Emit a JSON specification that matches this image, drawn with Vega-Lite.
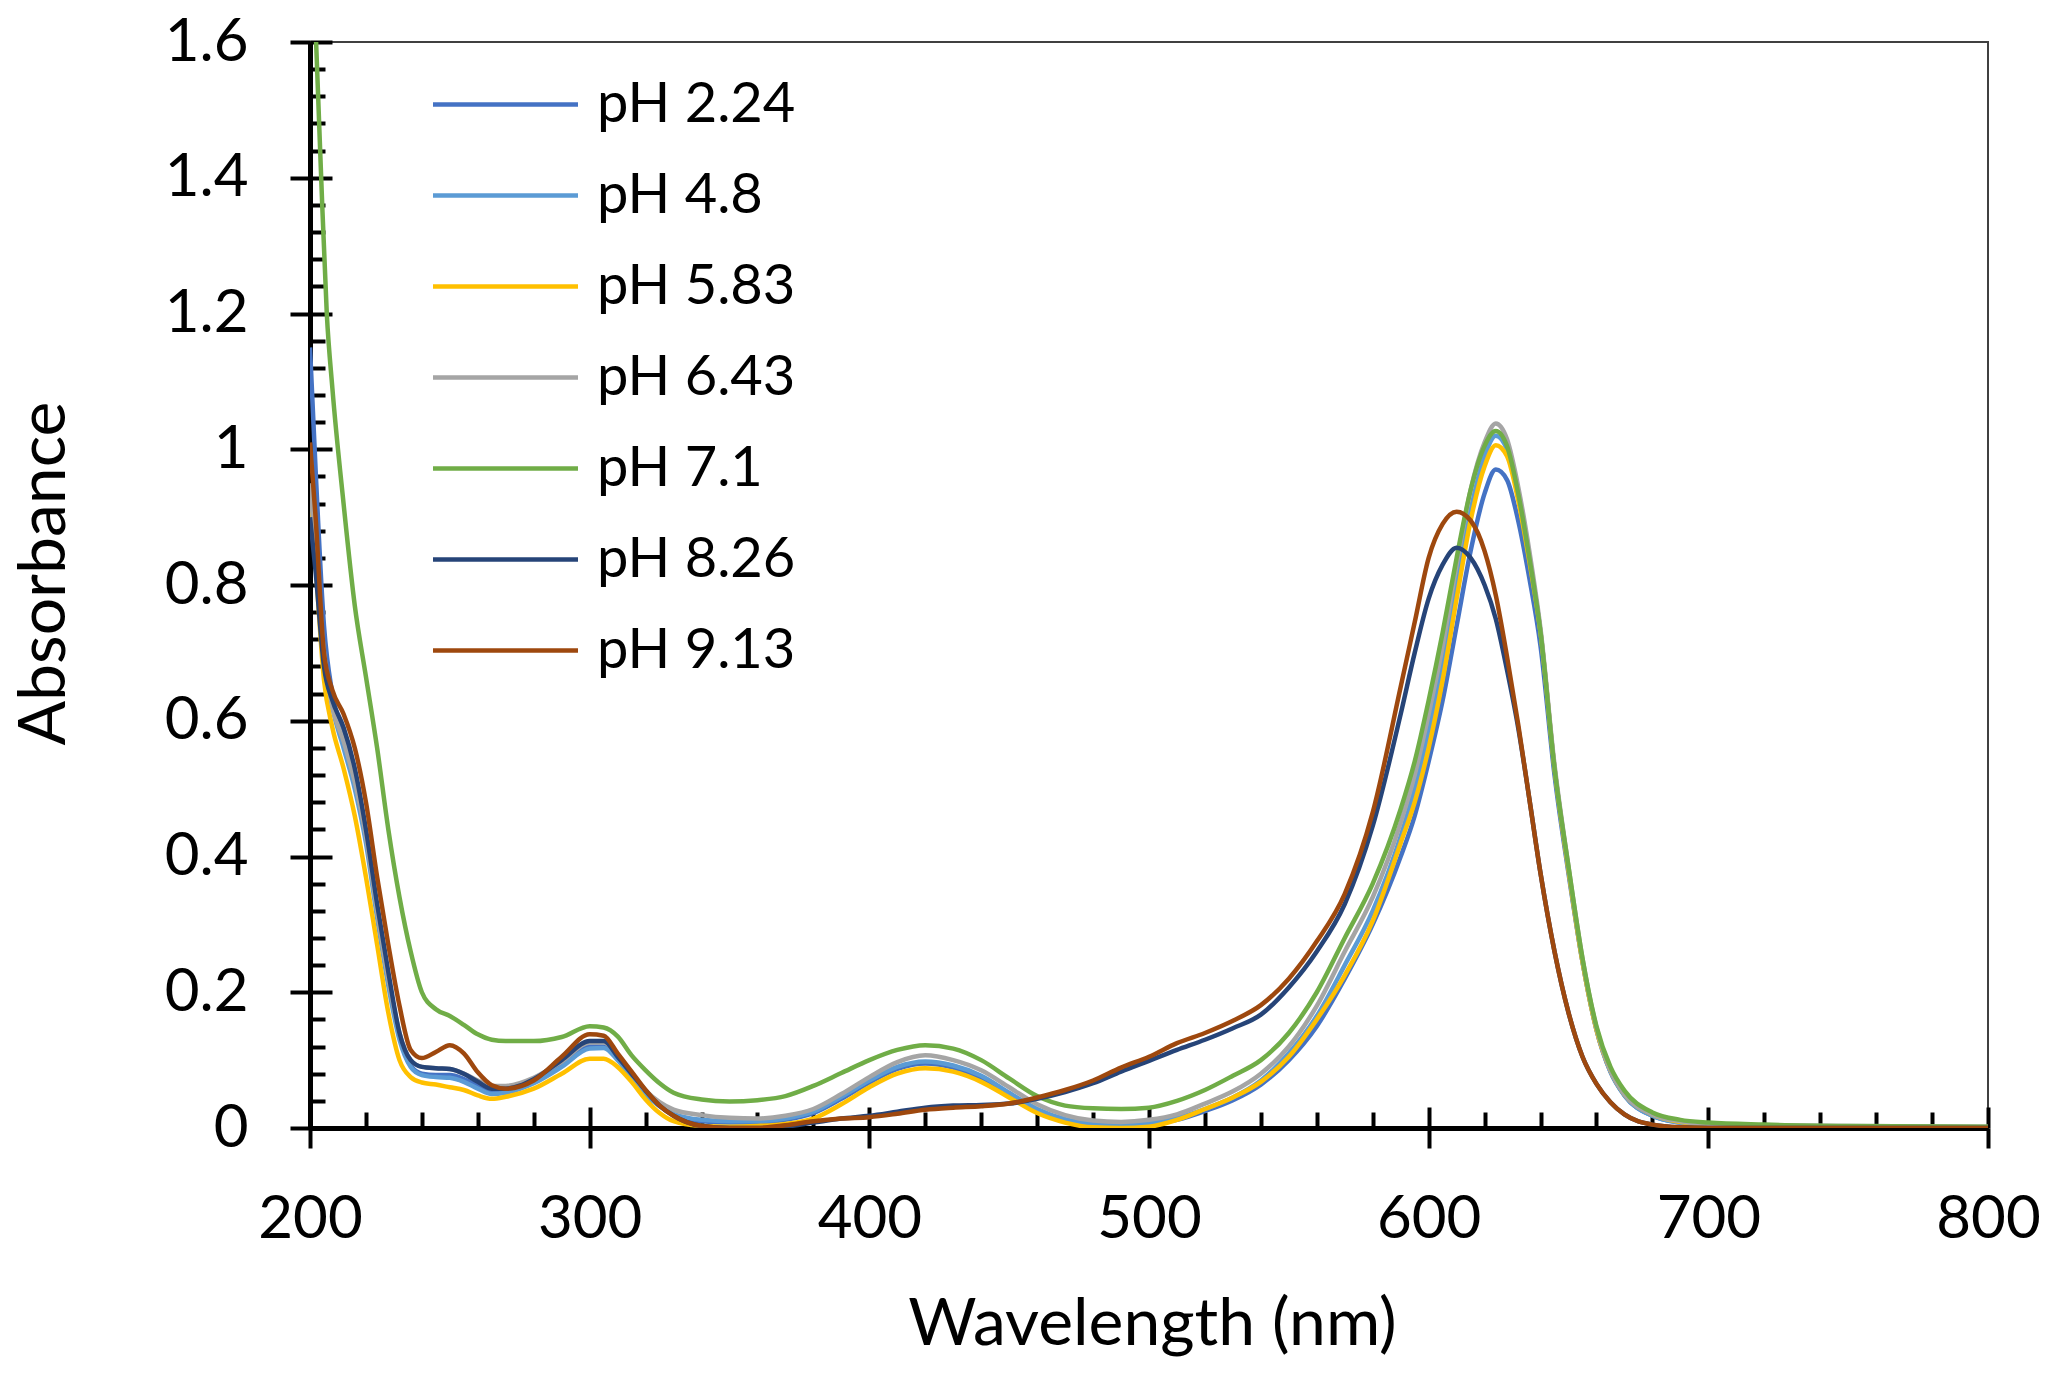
{
  "$schema": "https://vega.github.io/schema/vega-lite/v6.json",
  "width": 1678,
  "height": 1086,
  "autosize": {"type": "none"},
  "padding": {"left": 310, "top": 42, "right": 62, "bottom": 249},
  "background": "#ffffff",
  "config": {
    "view": {"stroke": "#404040", "strokeWidth": 2},
    "axis": {"grid": false, "labelFont": "Lato", "titleFont": "Lato", "labelColor": "#000000", "titleColor": "#000000", "tickColor": "#000000", "domainColor": "#000000"}
  },
  "data": {
    "values": [
      {"s":"pH 2.24","wl":200,"A":1.15},{"s":"pH 2.24","wl":202,"A":0.97},{"s":"pH 2.24","wl":205,"A":0.74},{"s":"pH 2.24","wl":208,"A":0.64},{"s":"pH 2.24","wl":212,"A":0.58},{"s":"pH 2.24","wl":216,"A":0.52},{"s":"pH 2.24","wl":220,"A":0.43},{"s":"pH 2.24","wl":224,"A":0.32},{"s":"pH 2.24","wl":228,"A":0.22},{"s":"pH 2.24","wl":232,"A":0.135},{"s":"pH 2.24","wl":236,"A":0.092},{"s":"pH 2.24","wl":240,"A":0.08},{"s":"pH 2.24","wl":245,"A":0.078},{"s":"pH 2.24","wl":250,"A":0.078},{"s":"pH 2.24","wl":255,"A":0.072},{"s":"pH 2.24","wl":260,"A":0.062},{"s":"pH 2.24","wl":265,"A":0.054},{"s":"pH 2.24","wl":270,"A":0.055},{"s":"pH 2.24","wl":280,"A":0.068},{"s":"pH 2.24","wl":290,"A":0.093},{"s":"pH 2.24","wl":300,"A":0.12},{"s":"pH 2.24","wl":305,"A":0.12},{"s":"pH 2.24","wl":310,"A":0.102},{"s":"pH 2.24","wl":315,"A":0.076},{"s":"pH 2.24","wl":320,"A":0.05},{"s":"pH 2.24","wl":325,"A":0.032},{"s":"pH 2.24","wl":330,"A":0.02},{"s":"pH 2.24","wl":340,"A":0.01},{"s":"pH 2.24","wl":350,"A":0.008},{"s":"pH 2.24","wl":360,"A":0.008},{"s":"pH 2.24","wl":370,"A":0.012},{"s":"pH 2.24","wl":380,"A":0.022},{"s":"pH 2.24","wl":390,"A":0.043},{"s":"pH 2.24","wl":400,"A":0.067},{"s":"pH 2.24","wl":410,"A":0.087},{"s":"pH 2.24","wl":420,"A":0.095},{"s":"pH 2.24","wl":430,"A":0.089},{"s":"pH 2.24","wl":440,"A":0.074},{"s":"pH 2.24","wl":450,"A":0.05},{"s":"pH 2.24","wl":460,"A":0.027},{"s":"pH 2.24","wl":470,"A":0.012},{"s":"pH 2.24","wl":480,"A":0.005},{"s":"pH 2.24","wl":490,"A":0.003},{"s":"pH 2.24","wl":500,"A":0.005},{"s":"pH 2.24","wl":510,"A":0.012},{"s":"pH 2.24","wl":520,"A":0.025},{"s":"pH 2.24","wl":530,"A":0.041},{"s":"pH 2.24","wl":540,"A":0.064},{"s":"pH 2.24","wl":550,"A":0.1},{"s":"pH 2.24","wl":560,"A":0.15},{"s":"pH 2.24","wl":570,"A":0.22},{"s":"pH 2.24","wl":580,"A":0.3},{"s":"pH 2.24","wl":590,"A":0.4},{"s":"pH 2.24","wl":595,"A":0.46},{"s":"pH 2.24","wl":600,"A":0.54},{"s":"pH 2.24","wl":605,"A":0.63},{"s":"pH 2.24","wl":610,"A":0.74},{"s":"pH 2.24","wl":615,"A":0.85},{"s":"pH 2.24","wl":620,"A":0.935},{"s":"pH 2.24","wl":624,"A":0.97},{"s":"pH 2.24","wl":628,"A":0.955},{"s":"pH 2.24","wl":632,"A":0.895},{"s":"pH 2.24","wl":636,"A":0.81},{"s":"pH 2.24","wl":640,"A":0.71},{"s":"pH 2.24","wl":645,"A":0.52},{"s":"pH 2.24","wl":650,"A":0.375},{"s":"pH 2.24","wl":655,"A":0.245},{"s":"pH 2.24","wl":660,"A":0.145},{"s":"pH 2.24","wl":665,"A":0.083},{"s":"pH 2.24","wl":670,"A":0.048},{"s":"pH 2.24","wl":680,"A":0.018},{"s":"pH 2.24","wl":690,"A":0.008},{"s":"pH 2.24","wl":700,"A":0.004},{"s":"pH 2.24","wl":720,"A":0.002},{"s":"pH 2.24","wl":750,"A":0.001},{"s":"pH 2.24","wl":800,"A":0.0},

      {"s":"pH 4.8","wl":200,"A":0.92},{"s":"pH 4.8","wl":202,"A":0.84},{"s":"pH 4.8","wl":205,"A":0.7},{"s":"pH 4.8","wl":208,"A":0.62},{"s":"pH 4.8","wl":212,"A":0.56},{"s":"pH 4.8","wl":216,"A":0.5},{"s":"pH 4.8","wl":220,"A":0.42},{"s":"pH 4.8","wl":224,"A":0.31},{"s":"pH 4.8","wl":228,"A":0.21},{"s":"pH 4.8","wl":232,"A":0.13},{"s":"pH 4.8","wl":236,"A":0.09},{"s":"pH 4.8","wl":240,"A":0.078},{"s":"pH 4.8","wl":245,"A":0.075},{"s":"pH 4.8","wl":250,"A":0.074},{"s":"pH 4.8","wl":255,"A":0.068},{"s":"pH 4.8","wl":260,"A":0.058},{"s":"pH 4.8","wl":265,"A":0.05},{"s":"pH 4.8","wl":270,"A":0.052},{"s":"pH 4.8","wl":280,"A":0.066},{"s":"pH 4.8","wl":290,"A":0.09},{"s":"pH 4.8","wl":300,"A":0.117},{"s":"pH 4.8","wl":305,"A":0.118},{"s":"pH 4.8","wl":310,"A":0.1},{"s":"pH 4.8","wl":315,"A":0.075},{"s":"pH 4.8","wl":320,"A":0.05},{"s":"pH 4.8","wl":325,"A":0.033},{"s":"pH 4.8","wl":330,"A":0.021},{"s":"pH 4.8","wl":340,"A":0.012},{"s":"pH 4.8","wl":350,"A":0.01},{"s":"pH 4.8","wl":360,"A":0.01},{"s":"pH 4.8","wl":370,"A":0.014},{"s":"pH 4.8","wl":380,"A":0.024},{"s":"pH 4.8","wl":390,"A":0.046},{"s":"pH 4.8","wl":400,"A":0.07},{"s":"pH 4.8","wl":410,"A":0.09},{"s":"pH 4.8","wl":420,"A":0.098},{"s":"pH 4.8","wl":430,"A":0.092},{"s":"pH 4.8","wl":440,"A":0.077},{"s":"pH 4.8","wl":450,"A":0.052},{"s":"pH 4.8","wl":460,"A":0.028},{"s":"pH 4.8","wl":470,"A":0.013},{"s":"pH 4.8","wl":480,"A":0.006},{"s":"pH 4.8","wl":490,"A":0.004},{"s":"pH 4.8","wl":500,"A":0.007},{"s":"pH 4.8","wl":510,"A":0.015},{"s":"pH 4.8","wl":520,"A":0.028},{"s":"pH 4.8","wl":530,"A":0.045},{"s":"pH 4.8","wl":540,"A":0.07},{"s":"pH 4.8","wl":550,"A":0.11},{"s":"pH 4.8","wl":560,"A":0.165},{"s":"pH 4.8","wl":570,"A":0.24},{"s":"pH 4.8","wl":580,"A":0.32},{"s":"pH 4.8","wl":590,"A":0.43},{"s":"pH 4.8","wl":595,"A":0.5},{"s":"pH 4.8","wl":600,"A":0.585},{"s":"pH 4.8","wl":605,"A":0.685},{"s":"pH 4.8","wl":610,"A":0.8},{"s":"pH 4.8","wl":615,"A":0.91},{"s":"pH 4.8","wl":620,"A":0.99},{"s":"pH 4.8","wl":624,"A":1.02},{"s":"pH 4.8","wl":628,"A":1.0},{"s":"pH 4.8","wl":632,"A":0.935},{"s":"pH 4.8","wl":636,"A":0.84},{"s":"pH 4.8","wl":640,"A":0.73},{"s":"pH 4.8","wl":645,"A":0.53},{"s":"pH 4.8","wl":650,"A":0.38},{"s":"pH 4.8","wl":655,"A":0.245},{"s":"pH 4.8","wl":660,"A":0.145},{"s":"pH 4.8","wl":665,"A":0.083},{"s":"pH 4.8","wl":670,"A":0.048},{"s":"pH 4.8","wl":680,"A":0.018},{"s":"pH 4.8","wl":690,"A":0.008},{"s":"pH 4.8","wl":700,"A":0.004},{"s":"pH 4.8","wl":720,"A":0.002},{"s":"pH 4.8","wl":750,"A":0.001},{"s":"pH 4.8","wl":800,"A":0.0},

      {"s":"pH 5.83","wl":200,"A":0.94},{"s":"pH 5.83","wl":202,"A":0.83},{"s":"pH 5.83","wl":205,"A":0.66},{"s":"pH 5.83","wl":208,"A":0.59},{"s":"pH 5.83","wl":212,"A":0.53},{"s":"pH 5.83","wl":216,"A":0.46},{"s":"pH 5.83","wl":220,"A":0.37},{"s":"pH 5.83","wl":224,"A":0.27},{"s":"pH 5.83","wl":228,"A":0.17},{"s":"pH 5.83","wl":232,"A":0.1},{"s":"pH 5.83","wl":236,"A":0.075},{"s":"pH 5.83","wl":240,"A":0.067},{"s":"pH 5.83","wl":245,"A":0.064},{"s":"pH 5.83","wl":250,"A":0.06},{"s":"pH 5.83","wl":255,"A":0.056},{"s":"pH 5.83","wl":260,"A":0.048},{"s":"pH 5.83","wl":265,"A":0.043},{"s":"pH 5.83","wl":270,"A":0.046},{"s":"pH 5.83","wl":280,"A":0.058},{"s":"pH 5.83","wl":290,"A":0.08},{"s":"pH 5.83","wl":300,"A":0.102},{"s":"pH 5.83","wl":305,"A":0.102},{"s":"pH 5.83","wl":310,"A":0.09},{"s":"pH 5.83","wl":315,"A":0.068},{"s":"pH 5.83","wl":320,"A":0.042},{"s":"pH 5.83","wl":325,"A":0.022},{"s":"pH 5.83","wl":330,"A":0.01},{"s":"pH 5.83","wl":340,"A":0.003},{"s":"pH 5.83","wl":350,"A":0.002},{"s":"pH 5.83","wl":360,"A":0.003},{"s":"pH 5.83","wl":370,"A":0.006},{"s":"pH 5.83","wl":380,"A":0.014},{"s":"pH 5.83","wl":390,"A":0.035},{"s":"pH 5.83","wl":400,"A":0.06},{"s":"pH 5.83","wl":410,"A":0.08},{"s":"pH 5.83","wl":420,"A":0.088},{"s":"pH 5.83","wl":430,"A":0.083},{"s":"pH 5.83","wl":440,"A":0.068},{"s":"pH 5.83","wl":450,"A":0.045},{"s":"pH 5.83","wl":460,"A":0.022},{"s":"pH 5.83","wl":470,"A":0.008},{"s":"pH 5.83","wl":480,"A":0.001},{"s":"pH 5.83","wl":490,"A":0.0},{"s":"pH 5.83","wl":500,"A":0.002},{"s":"pH 5.83","wl":510,"A":0.012},{"s":"pH 5.83","wl":520,"A":0.028},{"s":"pH 5.83","wl":530,"A":0.045},{"s":"pH 5.83","wl":540,"A":0.068},{"s":"pH 5.83","wl":550,"A":0.105},{"s":"pH 5.83","wl":560,"A":0.16},{"s":"pH 5.83","wl":570,"A":0.225},{"s":"pH 5.83","wl":580,"A":0.305},{"s":"pH 5.83","wl":590,"A":0.42},{"s":"pH 5.83","wl":595,"A":0.48},{"s":"pH 5.83","wl":600,"A":0.56},{"s":"pH 5.83","wl":605,"A":0.66},{"s":"pH 5.83","wl":610,"A":0.78},{"s":"pH 5.83","wl":615,"A":0.895},{"s":"pH 5.83","wl":620,"A":0.975},{"s":"pH 5.83","wl":624,"A":1.006},{"s":"pH 5.83","wl":628,"A":0.99},{"s":"pH 5.83","wl":632,"A":0.925},{"s":"pH 5.83","wl":636,"A":0.835},{"s":"pH 5.83","wl":640,"A":0.73},{"s":"pH 5.83","wl":645,"A":0.53},{"s":"pH 5.83","wl":650,"A":0.38},{"s":"pH 5.83","wl":655,"A":0.245},{"s":"pH 5.83","wl":660,"A":0.145},{"s":"pH 5.83","wl":665,"A":0.085},{"s":"pH 5.83","wl":670,"A":0.05},{"s":"pH 5.83","wl":680,"A":0.02},{"s":"pH 5.83","wl":690,"A":0.009},{"s":"pH 5.83","wl":700,"A":0.005},{"s":"pH 5.83","wl":720,"A":0.003},{"s":"pH 5.83","wl":750,"A":0.001},{"s":"pH 5.83","wl":800,"A":0.0},

      {"s":"pH 6.43","wl":200,"A":0.95},{"s":"pH 6.43","wl":202,"A":0.85},{"s":"pH 6.43","wl":205,"A":0.7},{"s":"pH 6.43","wl":208,"A":0.62},{"s":"pH 6.43","wl":212,"A":0.57},{"s":"pH 6.43","wl":216,"A":0.51},{"s":"pH 6.43","wl":220,"A":0.43},{"s":"pH 6.43","wl":224,"A":0.32},{"s":"pH 6.43","wl":228,"A":0.22},{"s":"pH 6.43","wl":232,"A":0.14},{"s":"pH 6.43","wl":236,"A":0.1},{"s":"pH 6.43","wl":240,"A":0.09},{"s":"pH 6.43","wl":245,"A":0.088},{"s":"pH 6.43","wl":250,"A":0.087},{"s":"pH 6.43","wl":255,"A":0.08},{"s":"pH 6.43","wl":260,"A":0.07},{"s":"pH 6.43","wl":265,"A":0.062},{"s":"pH 6.43","wl":270,"A":0.062},{"s":"pH 6.43","wl":280,"A":0.074},{"s":"pH 6.43","wl":290,"A":0.098},{"s":"pH 6.43","wl":300,"A":0.126},{"s":"pH 6.43","wl":305,"A":0.126},{"s":"pH 6.43","wl":310,"A":0.108},{"s":"pH 6.43","wl":315,"A":0.08},{"s":"pH 6.43","wl":320,"A":0.055},{"s":"pH 6.43","wl":325,"A":0.038},{"s":"pH 6.43","wl":330,"A":0.027},{"s":"pH 6.43","wl":340,"A":0.019},{"s":"pH 6.43","wl":350,"A":0.015},{"s":"pH 6.43","wl":360,"A":0.014},{"s":"pH 6.43","wl":370,"A":0.018},{"s":"pH 6.43","wl":380,"A":0.028},{"s":"pH 6.43","wl":390,"A":0.05},{"s":"pH 6.43","wl":400,"A":0.075},{"s":"pH 6.43","wl":410,"A":0.097},{"s":"pH 6.43","wl":420,"A":0.107},{"s":"pH 6.43","wl":430,"A":0.1},{"s":"pH 6.43","wl":440,"A":0.085},{"s":"pH 6.43","wl":450,"A":0.06},{"s":"pH 6.43","wl":460,"A":0.035},{"s":"pH 6.43","wl":470,"A":0.019},{"s":"pH 6.43","wl":480,"A":0.011},{"s":"pH 6.43","wl":490,"A":0.009},{"s":"pH 6.43","wl":500,"A":0.012},{"s":"pH 6.43","wl":510,"A":0.02},{"s":"pH 6.43","wl":520,"A":0.036},{"s":"pH 6.43","wl":530,"A":0.054},{"s":"pH 6.43","wl":540,"A":0.08},{"s":"pH 6.43","wl":550,"A":0.12},{"s":"pH 6.43","wl":560,"A":0.18},{"s":"pH 6.43","wl":570,"A":0.26},{"s":"pH 6.43","wl":580,"A":0.34},{"s":"pH 6.43","wl":590,"A":0.45},{"s":"pH 6.43","wl":595,"A":0.52},{"s":"pH 6.43","wl":600,"A":0.61},{"s":"pH 6.43","wl":605,"A":0.71},{"s":"pH 6.43","wl":610,"A":0.83},{"s":"pH 6.43","wl":615,"A":0.94},{"s":"pH 6.43","wl":620,"A":1.01},{"s":"pH 6.43","wl":624,"A":1.038},{"s":"pH 6.43","wl":628,"A":1.015},{"s":"pH 6.43","wl":632,"A":0.945},{"s":"pH 6.43","wl":636,"A":0.85},{"s":"pH 6.43","wl":640,"A":0.735},{"s":"pH 6.43","wl":645,"A":0.535},{"s":"pH 6.43","wl":650,"A":0.385},{"s":"pH 6.43","wl":655,"A":0.25},{"s":"pH 6.43","wl":660,"A":0.148},{"s":"pH 6.43","wl":665,"A":0.085},{"s":"pH 6.43","wl":670,"A":0.05},{"s":"pH 6.43","wl":680,"A":0.02},{"s":"pH 6.43","wl":690,"A":0.01},{"s":"pH 6.43","wl":700,"A":0.006},{"s":"pH 6.43","wl":720,"A":0.004},{"s":"pH 6.43","wl":750,"A":0.003},{"s":"pH 6.43","wl":800,"A":0.002},

      {"s":"pH 7.1","wl":200,"A":1.85},{"s":"pH 7.1","wl":202,"A":1.62},{"s":"pH 7.1","wl":204,"A":1.4},{"s":"pH 7.1","wl":206,"A":1.2},{"s":"pH 7.1","wl":208,"A":1.09},{"s":"pH 7.1","wl":212,"A":0.92},{"s":"pH 7.1","wl":216,"A":0.77},{"s":"pH 7.1","wl":220,"A":0.665},{"s":"pH 7.1","wl":224,"A":0.56},{"s":"pH 7.1","wl":228,"A":0.44},{"s":"pH 7.1","wl":232,"A":0.34},{"s":"pH 7.1","wl":236,"A":0.26},{"s":"pH 7.1","wl":240,"A":0.2},{"s":"pH 7.1","wl":245,"A":0.175},{"s":"pH 7.1","wl":250,"A":0.165},{"s":"pH 7.1","wl":255,"A":0.152},{"s":"pH 7.1","wl":260,"A":0.138},{"s":"pH 7.1","wl":265,"A":0.13},{"s":"pH 7.1","wl":270,"A":0.128},{"s":"pH 7.1","wl":280,"A":0.128},{"s":"pH 7.1","wl":290,"A":0.134},{"s":"pH 7.1","wl":300,"A":0.15},{"s":"pH 7.1","wl":305,"A":0.148},{"s":"pH 7.1","wl":310,"A":0.135},{"s":"pH 7.1","wl":315,"A":0.107},{"s":"pH 7.1","wl":320,"A":0.085},{"s":"pH 7.1","wl":325,"A":0.066},{"s":"pH 7.1","wl":330,"A":0.052},{"s":"pH 7.1","wl":340,"A":0.042},{"s":"pH 7.1","wl":350,"A":0.039},{"s":"pH 7.1","wl":360,"A":0.041},{"s":"pH 7.1","wl":370,"A":0.047},{"s":"pH 7.1","wl":380,"A":0.062},{"s":"pH 7.1","wl":390,"A":0.081},{"s":"pH 7.1","wl":400,"A":0.1},{"s":"pH 7.1","wl":410,"A":0.115},{"s":"pH 7.1","wl":420,"A":0.122},{"s":"pH 7.1","wl":430,"A":0.117},{"s":"pH 7.1","wl":440,"A":0.1},{"s":"pH 7.1","wl":450,"A":0.073},{"s":"pH 7.1","wl":460,"A":0.047},{"s":"pH 7.1","wl":470,"A":0.033},{"s":"pH 7.1","wl":480,"A":0.029},{"s":"pH 7.1","wl":490,"A":0.028},{"s":"pH 7.1","wl":500,"A":0.03},{"s":"pH 7.1","wl":510,"A":0.04},{"s":"pH 7.1","wl":520,"A":0.056},{"s":"pH 7.1","wl":530,"A":0.077},{"s":"pH 7.1","wl":540,"A":0.1},{"s":"pH 7.1","wl":550,"A":0.14},{"s":"pH 7.1","wl":560,"A":0.2},{"s":"pH 7.1","wl":570,"A":0.28},{"s":"pH 7.1","wl":580,"A":0.36},{"s":"pH 7.1","wl":590,"A":0.47},{"s":"pH 7.1","wl":595,"A":0.54},{"s":"pH 7.1","wl":600,"A":0.63},{"s":"pH 7.1","wl":605,"A":0.73},{"s":"pH 7.1","wl":610,"A":0.84},{"s":"pH 7.1","wl":615,"A":0.94},{"s":"pH 7.1","wl":620,"A":1.005},{"s":"pH 7.1","wl":624,"A":1.027},{"s":"pH 7.1","wl":628,"A":1.005},{"s":"pH 7.1","wl":632,"A":0.935},{"s":"pH 7.1","wl":636,"A":0.84},{"s":"pH 7.1","wl":640,"A":0.73},{"s":"pH 7.1","wl":645,"A":0.53},{"s":"pH 7.1","wl":650,"A":0.385},{"s":"pH 7.1","wl":655,"A":0.25},{"s":"pH 7.1","wl":660,"A":0.15},{"s":"pH 7.1","wl":665,"A":0.09},{"s":"pH 7.1","wl":670,"A":0.055},{"s":"pH 7.1","wl":680,"A":0.023},{"s":"pH 7.1","wl":690,"A":0.012},{"s":"pH 7.1","wl":700,"A":0.008},{"s":"pH 7.1","wl":720,"A":0.005},{"s":"pH 7.1","wl":750,"A":0.003},{"s":"pH 7.1","wl":800,"A":0.002},

      {"s":"pH 8.26","wl":200,"A":0.9},{"s":"pH 8.26","wl":202,"A":0.82},{"s":"pH 8.26","wl":205,"A":0.68},{"s":"pH 8.26","wl":208,"A":0.63},{"s":"pH 8.26","wl":212,"A":0.59},{"s":"pH 8.26","wl":216,"A":0.53},{"s":"pH 8.26","wl":220,"A":0.44},{"s":"pH 8.26","wl":224,"A":0.33},{"s":"pH 8.26","wl":228,"A":0.23},{"s":"pH 8.26","wl":232,"A":0.14},{"s":"pH 8.26","wl":236,"A":0.1},{"s":"pH 8.26","wl":240,"A":0.09},{"s":"pH 8.26","wl":245,"A":0.088},{"s":"pH 8.26","wl":250,"A":0.087},{"s":"pH 8.26","wl":255,"A":0.08},{"s":"pH 8.26","wl":260,"A":0.068},{"s":"pH 8.26","wl":265,"A":0.058},{"s":"pH 8.26","wl":270,"A":0.058},{"s":"pH 8.26","wl":280,"A":0.072},{"s":"pH 8.26","wl":290,"A":0.1},{"s":"pH 8.26","wl":300,"A":0.128},{"s":"pH 8.26","wl":305,"A":0.128},{"s":"pH 8.26","wl":310,"A":0.105},{"s":"pH 8.26","wl":315,"A":0.08},{"s":"pH 8.26","wl":320,"A":0.055},{"s":"pH 8.26","wl":325,"A":0.033},{"s":"pH 8.26","wl":330,"A":0.018},{"s":"pH 8.26","wl":340,"A":0.003},{"s":"pH 8.26","wl":350,"A":0.0},{"s":"pH 8.26","wl":360,"A":0.0},{"s":"pH 8.26","wl":370,"A":0.002},{"s":"pH 8.26","wl":380,"A":0.008},{"s":"pH 8.26","wl":390,"A":0.014},{"s":"pH 8.26","wl":400,"A":0.018},{"s":"pH 8.26","wl":410,"A":0.024},{"s":"pH 8.26","wl":420,"A":0.03},{"s":"pH 8.26","wl":430,"A":0.033},{"s":"pH 8.26","wl":440,"A":0.034},{"s":"pH 8.26","wl":450,"A":0.036},{"s":"pH 8.26","wl":460,"A":0.043},{"s":"pH 8.26","wl":470,"A":0.053},{"s":"pH 8.26","wl":480,"A":0.066},{"s":"pH 8.26","wl":490,"A":0.083},{"s":"pH 8.26","wl":500,"A":0.099},{"s":"pH 8.26","wl":510,"A":0.115},{"s":"pH 8.26","wl":520,"A":0.13},{"s":"pH 8.26","wl":530,"A":0.147},{"s":"pH 8.26","wl":540,"A":0.167},{"s":"pH 8.26","wl":550,"A":0.207},{"s":"pH 8.26","wl":560,"A":0.26},{"s":"pH 8.26","wl":570,"A":0.33},{"s":"pH 8.26","wl":580,"A":0.445},{"s":"pH 8.26","wl":590,"A":0.61},{"s":"pH 8.26","wl":595,"A":0.7},{"s":"pH 8.26","wl":600,"A":0.78},{"s":"pH 8.26","wl":605,"A":0.83},{"s":"pH 8.26","wl":610,"A":0.855},{"s":"pH 8.26","wl":615,"A":0.84},{"s":"pH 8.26","wl":620,"A":0.8},{"s":"pH 8.26","wl":624,"A":0.75},{"s":"pH 8.26","wl":628,"A":0.675},{"s":"pH 8.26","wl":632,"A":0.59},{"s":"pH 8.26","wl":636,"A":0.485},{"s":"pH 8.26","wl":640,"A":0.375},{"s":"pH 8.26","wl":645,"A":0.26},{"s":"pH 8.26","wl":650,"A":0.17},{"s":"pH 8.26","wl":655,"A":0.105},{"s":"pH 8.26","wl":660,"A":0.065},{"s":"pH 8.26","wl":665,"A":0.038},{"s":"pH 8.26","wl":670,"A":0.02},{"s":"pH 8.26","wl":680,"A":0.005},{"s":"pH 8.26","wl":690,"A":0.001},{"s":"pH 8.26","wl":700,"A":0.0},{"s":"pH 8.26","wl":750,"A":0.0},{"s":"pH 8.26","wl":800,"A":0.0},

      {"s":"pH 9.13","wl":200,"A":1.01},{"s":"pH 9.13","wl":202,"A":0.9},{"s":"pH 9.13","wl":205,"A":0.7},{"s":"pH 9.13","wl":208,"A":0.645},{"s":"pH 9.13","wl":212,"A":0.61},{"s":"pH 9.13","wl":216,"A":0.56},{"s":"pH 9.13","wl":220,"A":0.48},{"s":"pH 9.13","wl":224,"A":0.37},{"s":"pH 9.13","wl":228,"A":0.27},{"s":"pH 9.13","wl":232,"A":0.18},{"s":"pH 9.13","wl":236,"A":0.115},{"s":"pH 9.13","wl":240,"A":0.103},{"s":"pH 9.13","wl":245,"A":0.112},{"s":"pH 9.13","wl":250,"A":0.122},{"s":"pH 9.13","wl":255,"A":0.11},{"s":"pH 9.13","wl":260,"A":0.082},{"s":"pH 9.13","wl":265,"A":0.063},{"s":"pH 9.13","wl":270,"A":0.058},{"s":"pH 9.13","wl":280,"A":0.07},{"s":"pH 9.13","wl":290,"A":0.105},{"s":"pH 9.13","wl":300,"A":0.138},{"s":"pH 9.13","wl":305,"A":0.136},{"s":"pH 9.13","wl":310,"A":0.11},{"s":"pH 9.13","wl":315,"A":0.083},{"s":"pH 9.13","wl":320,"A":0.056},{"s":"pH 9.13","wl":325,"A":0.033},{"s":"pH 9.13","wl":330,"A":0.018},{"s":"pH 9.13","wl":340,"A":0.003},{"s":"pH 9.13","wl":350,"A":0.0},{"s":"pH 9.13","wl":360,"A":0.0},{"s":"pH 9.13","wl":370,"A":0.004},{"s":"pH 9.13","wl":380,"A":0.01},{"s":"pH 9.13","wl":390,"A":0.014},{"s":"pH 9.13","wl":400,"A":0.016},{"s":"pH 9.13","wl":410,"A":0.021},{"s":"pH 9.13","wl":420,"A":0.027},{"s":"pH 9.13","wl":430,"A":0.03},{"s":"pH 9.13","wl":440,"A":0.032},{"s":"pH 9.13","wl":450,"A":0.036},{"s":"pH 9.13","wl":460,"A":0.045},{"s":"pH 9.13","wl":470,"A":0.056},{"s":"pH 9.13","wl":480,"A":0.07},{"s":"pH 9.13","wl":490,"A":0.089},{"s":"pH 9.13","wl":500,"A":0.105},{"s":"pH 9.13","wl":510,"A":0.125},{"s":"pH 9.13","wl":520,"A":0.14},{"s":"pH 9.13","wl":530,"A":0.158},{"s":"pH 9.13","wl":540,"A":0.181},{"s":"pH 9.13","wl":550,"A":0.22},{"s":"pH 9.13","wl":560,"A":0.275},{"s":"pH 9.13","wl":570,"A":0.345},{"s":"pH 9.13","wl":580,"A":0.465},{"s":"pH 9.13","wl":590,"A":0.65},{"s":"pH 9.13","wl":595,"A":0.745},{"s":"pH 9.13","wl":600,"A":0.84},{"s":"pH 9.13","wl":605,"A":0.89},{"s":"pH 9.13","wl":610,"A":0.908},{"s":"pH 9.13","wl":615,"A":0.895},{"s":"pH 9.13","wl":620,"A":0.85},{"s":"pH 9.13","wl":624,"A":0.785},{"s":"pH 9.13","wl":628,"A":0.695},{"s":"pH 9.13","wl":632,"A":0.595},{"s":"pH 9.13","wl":636,"A":0.485},{"s":"pH 9.13","wl":640,"A":0.375},{"s":"pH 9.13","wl":645,"A":0.26},{"s":"pH 9.13","wl":650,"A":0.17},{"s":"pH 9.13","wl":655,"A":0.105},{"s":"pH 9.13","wl":660,"A":0.065},{"s":"pH 9.13","wl":665,"A":0.038},{"s":"pH 9.13","wl":670,"A":0.02},{"s":"pH 9.13","wl":680,"A":0.005},{"s":"pH 9.13","wl":690,"A":0.001},{"s":"pH 9.13","wl":700,"A":0.0},{"s":"pH 9.13","wl":750,"A":0.0},{"s":"pH 9.13","wl":800,"A":0.0}
    ]
  },
  "resolve": {"axis": {"x": "independent", "y": "independent"}},
  "layer": [
    {
      "mark": {"type": "point", "opacity": 0},
      "encoding": {
        "x": {"field": "wl", "type": "quantitative", "scale": {"domain": [200, 800], "nice": false, "zero": false},
          "axis": {"orient": "bottom", "values": [220,240,260,280,320,340,360,380,420,440,460,480,520,540,560,580,620,640,660,680,720,740,760,780], "tickSize": -16, "tickWidth": 4, "labels": false, "domain": false, "title": null}},
        "y": {"field": "A", "type": "quantitative", "scale": {"domain": [0, 1.6], "nice": false},
          "axis": {"orient": "left", "values": [0.04,0.08,0.12,0.16,0.24,0.28,0.32,0.36,0.44,0.48,0.52,0.56,0.64,0.68,0.72,0.76,0.84,0.88,0.92,0.96,1.04,1.08,1.12,1.16,1.24,1.28,1.32,1.36,1.44,1.48,1.52,1.56], "tickSize": -15, "tickWidth": 4, "labels": false, "domain": false, "title": null}}
      }
    },
    {
      "mark": {"type": "point", "opacity": 0},
      "encoding": {
        "x": {"field": "wl", "type": "quantitative",
          "axis": {"orient": "bottom", "values": [200,300,400,500,600,700,800], "tickSize": -21, "tickWidth": 4, "labels": false, "domain": false, "title": null}},
        "y": {"field": "A", "type": "quantitative",
          "axis": {"orient": "left", "values": [0,0.2,0.4,0.6,0.8,1,1.2,1.4,1.6], "tickSize": -22, "tickWidth": 4, "labels": false, "domain": false, "title": null}}
      }
    },
    {
      "mark": {"type": "line", "strokeWidth": 4.5, "interpolate": "monotone", "clip": true},
      "encoding": {
        "x": {"field": "wl", "type": "quantitative",
          "axis": {"orient": "bottom", "values": [200,300,400,500,600,700,800], "tickSize": 20, "tickWidth": 4, "domainWidth": 5, "labelFontSize": 60, "labelPadding": 42, "labelFlush": false,
            "title": "Wavelength (nm)", "titleFontSize": 66, "titleFontWeight": "normal", "titleX": 842, "titleY": 216, "titleBaseline": "alphabetic"}},
        "y": {"field": "A", "type": "quantitative",
          "axis": {"orient": "left", "values": [0,0.2,0.4,0.6,0.8,1,1.2,1.4,1.6], "format": "~g", "tickSize": 20, "tickWidth": 4, "domainWidth": 5, "labelFontSize": 60, "labelPadding": 42, "labelFlush": false,
            "title": "Absorbance", "titleFontSize": 66, "titleFontWeight": "normal", "titleAngle": -90, "titleX": -266, "titleY": 531, "titleAlign": "center", "titleBaseline": "middle"}},
        "color": {"field": "s", "type": "nominal", "sort": null,
          "scale": {"domain": ["pH 2.24","pH 4.8","pH 5.83","pH 6.43","pH 7.1","pH 8.26","pH 9.13"], "range": ["#4472C4","#5B9BD5","#FFC000","#A5A5A5","#70AD47","#264478","#9E480E"]},
          "legend": {"orient": "none", "legendX": 164, "legendY": 31, "title": null, "padding": 0, "symbolType": "M-2.5,0H2.5", "symbolSize": 3364, "symbolStrokeWidth": 4.5,
            "labelFont": "Lato", "labelFontSize": 56, "labelColor": "#000000", "labelOffset": 60, "labelLimit": 0, "rowPadding": 31}}
      }
    }
  ]
}
